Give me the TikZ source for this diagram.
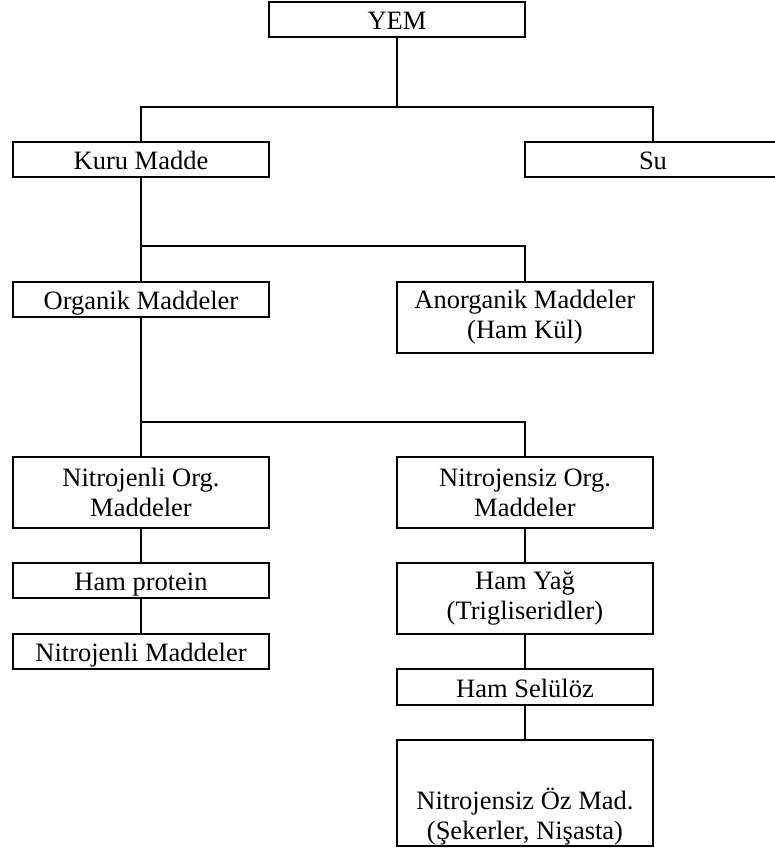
\documentclass[tikz,border=0pt]{standalone}
\usepackage{fontspec}
\setmainfont{Liberation Serif}
\usetikzlibrary{positioning}

\begin{document}
\begin{tikzpicture}[node distance=17.5pt, line width=1pt,
  every node/.style={font=\fontsize{13.25}{15}\selectfont},
  frame/.style={draw,minimum width=128pt,inner sep=0pt,outer sep=0pt,align=center},
  box/.style={frame,minimum height=17.5pt,text height=10pt,text depth=0pt},
  tall/.style={frame,minimum height=35.5pt}]
\useasboundingbox (0,0) rectangle (387.5pt,-426pt);
\node[box,anchor=north west] (yem) at (134.5pt,-1pt) {YEM};
\node[box,below left=52.5pt and 0pt of yem] (kuru) {Kuru Madde};
\node[box,below right=52.5pt and 0pt of yem] (su) {Su};
\node[box,below=52.5pt of kuru] (org) {Organik Maddeler};
\node[tall,below right=0pt and 64pt of org.north east] (anorg) {Anorganik Maddeler\\(Ham Kül)};
\node[tall,below=70pt of org] (nlu) {Nitrojenli Org.\\Maddeler};
\node[tall,right=64pt of nlu] (nsiz) {Nitrojensiz Org.\\Maddeler};
\node[box,below=of nlu] (hp) {Ham protein};
\node[box,below=18pt of hp] (nmad) {Nitrojenli Maddeler};
\node[tall,below=of nsiz] (hy) {Ham Yağ\\(Trigliseridler)};
\node[box,below=of hy,minimum height=18pt] (hs) {Ham Selülöz};
\node[tall,below=of hs,minimum height=53pt] (noz) {\strut\\[8pt]Nitrojensiz Öz Mad.\\(Şekerler, Nişasta)};
% junctions
\coordinate[above=17.5pt of kuru] (j1);
\coordinate[above=18pt of org] (j2);
\coordinate[above=17.5pt of nlu] (j3);
\draw (yem) -- (yem |- j1);
\draw (kuru.north) -- (j1) -| (su.north);
\draw (kuru) -- (org);
\draw (j2) -| (anorg.north);
\draw (org) -- (nlu);
\draw (j3) -| (nsiz.north);
\draw (nlu) -- (hp);
\draw (hp) -- (nmad);
\draw (nsiz) -- (hy);
\draw (hy) -- (hs);
\draw (hs) -- (noz);
\end{tikzpicture}
\end{document}
